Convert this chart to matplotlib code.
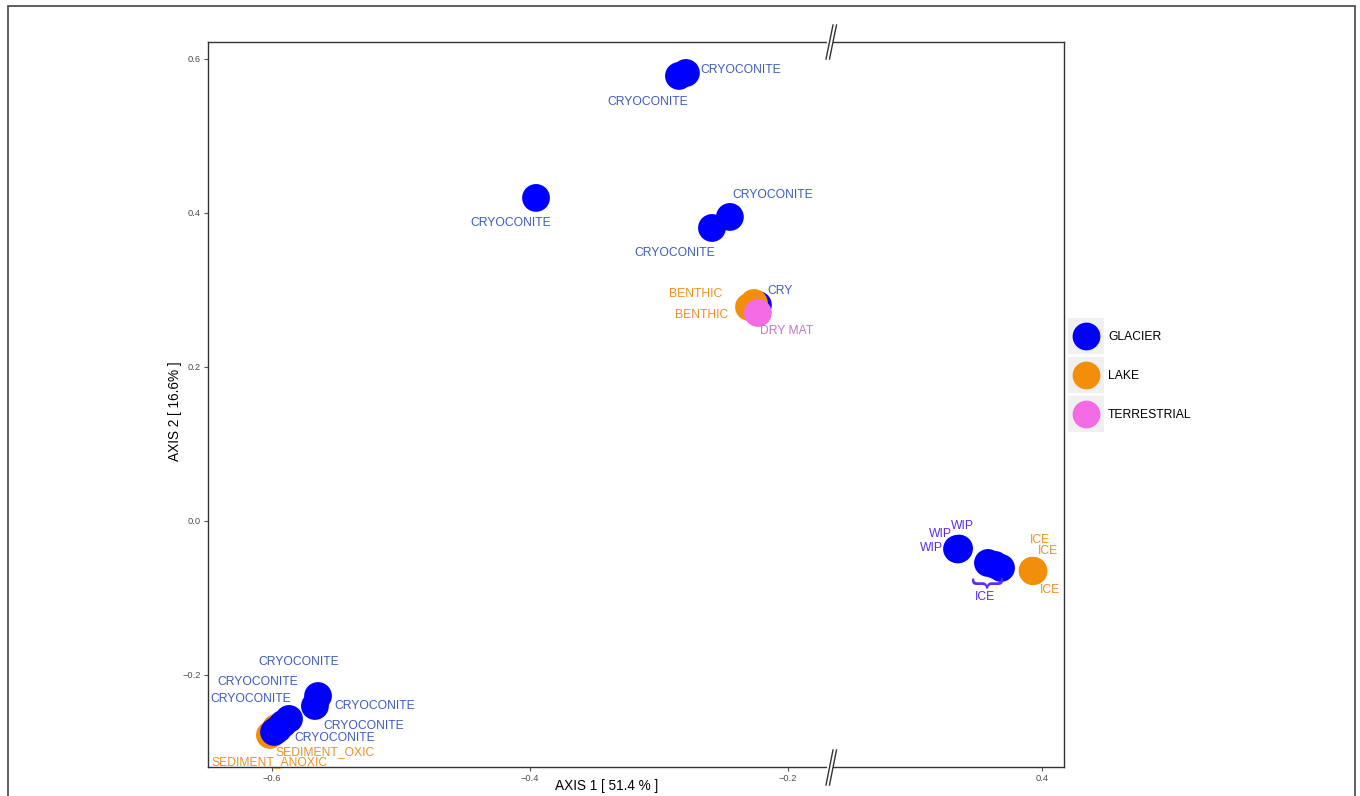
import numpy as np
import matplotlib.pyplot as plt
from matplotlib.lines import Line2D
from matplotlib.patches import Rectangle

plt.rcParams['font.family'] = ['Liberation Sans', 'DejaVu Sans']

# ordination scores per sample, drawing order kept as in the table
axis1 = [-0.2845, -0.2791, -0.3953, -0.2589, -0.2450, -0.2233,
         -0.2302, -0.2264, -0.2233,
         -0.6016, -0.5969,
         -0.5643, -0.5667, -0.5868, -0.5915, -0.5953, -0.5984,
         0.3341, 0.3349, 0.3357,
         0.3581, 0.3636, 0.3682,
         0.3926, 0.3930, 0.3934]
axis2 = [0.5779, 0.5818, 0.4195, 0.3805, 0.3948, 0.2805,
         0.2779, 0.2831, 0.2701,
         -0.2779, -0.2688,
         -0.2273, -0.2403, -0.2571, -0.2636, -0.2701, -0.2740,
         -0.0364, -0.0370, -0.0358,
         -0.0545, -0.0571, -0.0610,
         -0.0645, -0.0652, -0.0649]
habitat = ['GLACIER'] * 6 + ['LAKE'] * 2 + ['TERRESTRIAL'] + ['LAKE'] * 2 \
    + ['GLACIER'] * 6 + ['GLACIER'] * 3 + ['GLACIER'] * 3 + ['LAKE'] * 3
sample = ['CRYOCONITE'] * 5 + ['CRY', 'BENTHIC', 'BENTHIC', 'DRY MAT',
                               'SEDIMENT_ANOXIC', 'SEDIMENT_OXIC'] \
    + ['CRYOCONITE'] * 6 + ['WIP'] * 3 + ['ICE', '', ''] + ['ICE'] * 3

# where each label sits relative to its point (pixels)
label_dx = [-31, 55, -25, -37, 43, 22, -47, -58, 29, 0, 49,
            -19, -57, -38, 92, 86, 61, 5, -18, -28, -3, 0, 0, 7, 15, 16]
label_dy = [-26, 3, -25, -25, 22, 14, -8, 9, -18, -27, -24,
            34, 24, 20, 18, 3, -6, 23, 15, 1, -34, 0, 0, 31, 20, -19]

point_col = {'GLACIER': '#0000ff', 'LAKE': '#f28e0a', 'TERRESTRIAL': '#f46be6'}
legend_groups = ['GLACIER', 'LAKE', 'TERRESTRIAL']


def label_colour(h, s):
    if h == 'LAKE':
        return '#f0901e'
    if h == 'TERRESTRIAL':
        return '#c477c4'
    if s in ('WIP', 'ICE'):
        return '#5b2cf0'
    return '#3d5cc0'


W, H = 1360, 796
fig = plt.figure(figsize=(W / 100, H / 100), dpi=100)


def fx(px):
    return px / W


def fy(py):
    return 1 - py / H


ax_l = fig.add_axes([fx(208), fy(767), fx(830) - fx(208), fy(42) - fy(767)])
ax_r = fig.add_axes([fx(830), fy(767), fx(1064) - fx(830), fy(42) - fy(767)],
                    sharey=ax_l)
ax_l.set_xlim(-0.6496, -0.1674)
ax_r.set_xlim(0.2357, 0.417)
ax_l.set_ylim(-0.3195, 0.622)
ax_l.set_xticks([-0.6, -0.4, -0.2])
ax_r.set_xticks([0.4])
ax_l.set_yticks([-0.2, 0.0, 0.2, 0.4, 0.6])

for ax in (ax_l, ax_r):
    for sp in ax.spines.values():
        sp.set_color('#333333')
        sp.set_linewidth(1.0)
    ax.tick_params(labelsize=6.7, labelcolor='#4d4d4d', color='#555555',
                   length=3, width=0.8, pad=2)
ax_l.spines['right'].set_visible(False)
ax_r.spines['left'].set_visible(False)
ax_r.tick_params(axis='y', left=False, labelleft=False)

x = np.array(axis1)
y = np.array(axis2)
cols = [point_col[h] for h in habitat]
for ax, lo, hi in ((ax_l, -1.0, 0.0), (ax_r, 0.0, 1.0)):
    idx = [i for i in range(len(x)) if lo <= x[i] < hi]
    ax.scatter(x[idx], y[idx], s=400, c=[cols[i] for i in idx],
               linewidths=0, zorder=3)
    for i in idx:
        if not sample[i]:
            continue
        ax.annotate(sample[i], (x[i], y[i]),
                    xytext=(label_dx[i], label_dy[i]),
                    textcoords='offset pixels', ha='center', va='center',
                    fontsize=8.7, color=label_colour(habitat[i], sample[i]),
                    zorder=4, annotation_clip=False)
        if sample[i] == 'ICE' and habitat[i] == 'GLACIER':
            # brace pointing the single ICE label at the stacked points
            ax.annotate('{', (x[i], y[i]), xytext=(0, -20),
                        textcoords='offset pixels', ha='center', va='center',
                        fontsize=24, rotation=90, color='#5b2cf0', zorder=4)

ax_l.set_xlabel('AXIS 1 [ 51.4 % ]', fontsize=9.8, labelpad=4)
ax_l.xaxis.set_label_coords((607 - 208) / (830 - 208), -0.017)
ax_l.xaxis.label.set_va('top')
ax_l.set_ylabel('AXIS 2 [ 16.6% ]', fontsize=9.8)
ax_l.yaxis.set_label_coords((175 - 208) / (830 - 208), (767 - 411) / 725)
ax_l.yaxis.label.set_va('center')

# break marks on the x axis
for ytop, ybot in ((25, 59), (750, 785)):
    fig.add_artist(Rectangle((fx(827), fy(44 if ytop < 100 else 769)),
                             fx(6), fy(40) - fy(44), transform=fig.transFigure,
                             facecolor='white', edgecolor='none', zorder=5))
    for off in (0, 3.5):
        fig.add_artist(Line2D([fx(826 + off), fx(833 + off)], [fy(ybot), fy(ytop)],
                              transform=fig.transFigure, color='#333333',
                              linewidth=1.0, zorder=6))

# legend
lg = fig.add_axes([fx(1066), fy(436), fx(140), fy(0) - fy(120)])
lg.set_xlim(0, 140)
lg.set_ylim(120, 0)
lg.axis('off')
for k, g in enumerate(legend_groups):
    top = 2 + 39 * k
    lg.add_patch(Rectangle((2, top), 36, 36, facecolor='#f0f0f0', edgecolor='none'))
    lg.scatter([20], [top + 18], s=400, c=point_col[g], linewidths=0, zorder=3)
    lg.text(42, top + 19, g, fontsize=8.7, ha='left', va='center', color='black')

# outer frame
fig.add_artist(Rectangle((fx(8), -0.02), fx(1355) - fx(8), fy(6) + 0.02,
                         transform=fig.transFigure, fill=False,
                         edgecolor='#444444', linewidth=1.2))

fig.savefig('out.png', dpi=100)
